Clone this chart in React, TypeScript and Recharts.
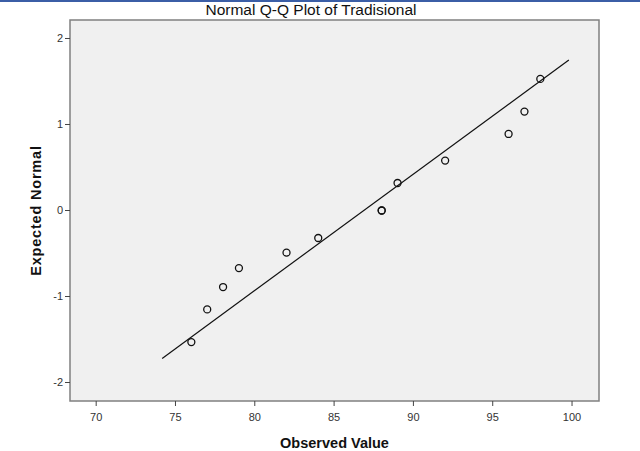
import {
  ScatterChart,
  Scatter,
  XAxis,
  YAxis,
  ReferenceArea,
  ReferenceLine,
  Label,
} from "recharts";

const observed = [76, 77, 78, 79, 82, 84, 88, 88, 89, 92, 96, 97, 98];
const expected = [-1.53, -1.15, -0.89, -0.67, -0.49, -0.32, 0, 0, 0.32, 0.58, 0.89, 1.15, 1.53];

// end points of the fitted normal line
const lineStart = { x: 74.16, y: -1.72 };
const lineEnd = { x: 99.8, y: 1.75 };

const xTicks = [70, 75, 80, 85, 90, 95, 100];
const yTicks = [-2, -1, 0, 1, 2];
const xDomain: [number, number] = [68.35, 101.7];
const yDomain: [number, number] = [-2.215, 2.215];

const FONT = '"Liberation Sans", Arial, sans-serif';

const points = observed.map((x, i) => ({ x, y: expected[i] }));

const OpenCircle = (props: any) => {
  const { cx, cy } = props;
  return <circle cx={cx} cy={cy} r={3.5} fill="none" stroke="#111" strokeWidth={1.3} />;
};

export default function App() {
  return (
    <div
      style={{
        position: "fixed",
        left: 0,
        top: 0,
        width: 640,
        height: 451,
        background: "#fff",
        fontFamily: FONT,
      }}
    >
      <div style={{ position: "absolute", left: 0, top: 0, width: 640, height: 2, background: "#3B5EA6" }} />
      <div
        style={{
          position: "absolute",
          left: 0,
          top: 0,
          width: 622,
          textAlign: "center",
          fontSize: 15.5,
          lineHeight: "20px",
          color: "#111",
          fontFamily: FONT,
        }}
      >
        Normal Q-Q Plot of Tradisional
      </div>
      <ScatterChart width={640} height={451} margin={{ top: 20, right: 41, bottom: 0, left: 0 }}>
        <ReferenceArea
          x1={xDomain[0]}
          x2={xDomain[1]}
          y1={yDomain[0]}
          y2={yDomain[1]}
          fill="#F0F0F0"
          fillOpacity={1}
          stroke="#808080"
          strokeWidth={1.5}
        />
        <XAxis
          type="number"
          dataKey="x"
          domain={xDomain}
          ticks={xTicks}
          allowDataOverflow
          axisLine={false}
          tickLine={{ stroke: "#444" }}
          tickSize={5}
          height={50}
          tick={{ fill: "#333", fontSize: 11, fontFamily: FONT, dy: 5 }}
        >
          <Label
            value="Observed Value"
            position="insideBottom"
            offset={3}
            style={{ fontSize: 14.5, fontWeight: "bold", fill: "#111", fontFamily: FONT }}
          />
        </XAxis>
        <YAxis
          type="number"
          dataKey="y"
          domain={yDomain}
          ticks={yTicks}
          allowDataOverflow
          axisLine={false}
          tickLine={{ stroke: "#444" }}
          tickSize={5}
          width={70}
          tick={{ fill: "#333", fontSize: 11, fontFamily: FONT }}
        >
          <Label
            value="Expected Normal"
            angle={-90}
            position="insideLeft"
            offset={36}
            style={{
              fontSize: 14.5,
              fontWeight: "bold",
              fill: "#111",
              fontFamily: FONT,
              textAnchor: "middle",
              letterSpacing: 0.8,
            }}
          />
        </YAxis>
        <ReferenceLine
          segment={[lineStart, lineEnd]}
          stroke="#111"
          strokeWidth={1.2}
          ifOverflow="visible"
        />
        <Scatter data={points} shape={OpenCircle} isAnimationActive={false} />
      </ScatterChart>
    </div>
  );
}
